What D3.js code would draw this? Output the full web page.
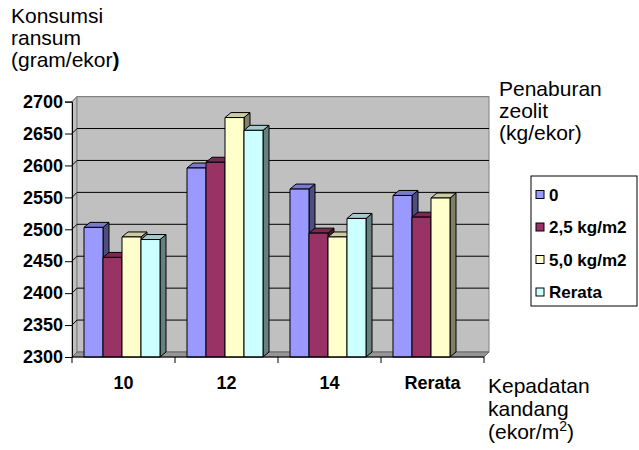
<!DOCTYPE html>
<html>
<head>
<meta charset="utf-8">
<script src="https://cdn.jsdelivr.net/npm/d3@7"></script>
<style>
  html, body { margin: 0; padding: 0; background: #fff; }
  svg { display: block; font-family: "Liberation Sans", Arial, sans-serif; }
</style>
</head>
<body>
<svg id="chart" width="639" height="450"></svg>
<script>
// ---- data ----
const categories = ["10", "12", "14", "Rerata"];
const seriesNames = ["0", "2,5 kg/m2", "5,0 kg/m2", "Rerata"];
const series0 = [2503, 2596, 2563, 2553];
const series25 = [2456, 2605, 2494, 2519];
const series50 = [2488, 2675, 2488, 2549];
const seriesRerata = [2484, 2655, 2517, null];
const yTicks = [2300, 2350, 2400, 2450, 2500, 2550, 2600, 2650, 2700];
const seriesColors = ["#9999ff", "#993366", "#ffffcc", "#ccffff"];

const allSeries = [series0, series25, series50, seriesRerata];

// ---- layout ----
const svg = d3.select("#chart");
const pLeft = 72, pRight = 484, pTop = 101.6, pBottom = 357;
const WDX = 5, WDY = 5;      // wall depth
const BDX = 6, BDY = 5;      // bar depth

const y = d3.scaleLinear().domain([2300, 2700]).range([pBottom, pTop]);
const x0 = d3.scaleBand().domain(categories).range([pLeft, pRight]).padding(0);
const x1 = d3.scaleBand().domain(seriesNames).range([12, 12 + 76]).padding(0);

// walls
const g = svg.append("g");
g.append("polygon")
  .attr("points", [[pLeft, pTop], [pLeft + WDX, pTop - WDY], [pLeft + WDX, pBottom - WDY], [pLeft, pBottom]].join(" "))
  .attr("fill", "#c0c0c0").attr("stroke", "#808080").attr("stroke-width", 1);
g.append("rect")
  .attr("x", pLeft + WDX).attr("y", pTop - WDY)
  .attr("width", pRight - pLeft).attr("height", pBottom - pTop)
  .attr("fill", "#c0c0c0").attr("stroke", "#808080").attr("stroke-width", 1);
g.append("polygon")
  .attr("points", [[pLeft, pBottom], [pRight, pBottom], [pRight + WDX, pBottom - WDY], [pLeft + WDX, pBottom - WDY]].join(" "))
  .attr("fill", "#969696").attr("stroke", "#666666").attr("stroke-width", 1);

// gridlines on back wall + left wall
yTicks.filter(v => v > 2300).forEach(v => {
  const yy = y(v);
  const c = v === 2700 ? "#808080" : "#000";
  g.append("line")
    .attr("x1", pLeft + WDX).attr("x2", pRight + WDX)
    .attr("y1", yy - WDY).attr("y2", yy - WDY)
    .attr("stroke", c).attr("stroke-width", 1);
  g.append("line")
    .attr("x1", pLeft).attr("x2", pLeft + WDX)
    .attr("y1", yy).attr("y2", yy - WDY)
    .attr("stroke", c).attr("stroke-width", 1);
});

// bars
function shade(c, k) {
  const col = d3.rgb(c);
  return d3.rgb(col.r * k, col.g * k, col.b * k).toString();
}
const barsG = svg.append("g");
categories.forEach((cat, ci) => {
  seriesNames.forEach((sn, si) => {
    const v = allSeries[si][ci];
    if (v == null) return;
    const bx = x0(cat) + x1(sn);
    const bw = x1.bandwidth();
    const by = y(v);
    const col = seriesColors[si];
    const bg = barsG.append("g").attr("stroke", "#000").attr("stroke-width", 1).attr("stroke-linejoin", "round");
    bg.append("polygon")
      .attr("points", [[bx + bw, by], [bx + bw + BDX, by - BDY], [bx + bw + BDX, pBottom - BDY], [bx + bw, pBottom]].join(" "))
      .attr("fill", shade(col, 0.5));
    bg.append("polygon")
      .attr("points", [[bx, by], [bx + bw, by], [bx + bw + BDX, by - BDY], [bx + BDX, by - BDY]].join(" "))
      .attr("fill", shade(col, 0.8));
    bg.append("rect")
      .attr("x", bx).attr("y", by).attr("width", bw).attr("height", pBottom - by)
      .attr("fill", col);
  });
});

// y axis
const yAxis = d3.axisLeft(y).tickValues(yTicks).tickSize(7).tickPadding(2).tickFormat(d3.format("d"));
const ya = svg.append("g").attr("transform", `translate(${pLeft},0)`).call(yAxis);
ya.select(".domain").attr("stroke", "#000");
ya.selectAll(".tick line").attr("stroke", "#000");
ya.selectAll(".tick text")
  .attr("fill", "#000").attr("font-size", "18px").attr("font-weight", "bold")
  .attr("font-family", "Liberation Sans, Arial, sans-serif");

// x axis
const xa = svg.append("g").attr("transform", `translate(0,${pBottom})`);
xa.append("line").attr("x1", pLeft).attr("x2", pRight).attr("y1", 0).attr("y2", 0).attr("stroke", "#000");
const boundaries = categories.map(c => x0(c)).concat([x0(categories[categories.length - 1]) + x0.bandwidth()]);
xa.selectAll("line.tk").data(boundaries).enter().append("line")
  .attr("class", "tk").attr("x1", d => d).attr("x2", d => d).attr("y1", 0).attr("y2", 6).attr("stroke", "#000");
xa.selectAll("text.cat").data(categories).enter().append("text")
  .attr("class", "cat")
  .attr("x", d => x0(d) + x0.bandwidth() / 2).attr("y", 32)
  .attr("text-anchor", "middle").attr("font-size", "18px").attr("font-weight", "bold").attr("fill", "#000")
  .text(d => d);

// titles
function multiline(lines, x, y0, lh, size) {
  const t = svg.append("text").attr("x", x).attr("y", y0).attr("font-size", size).attr("fill", "#000");
  lines.forEach((l, i) => {
    const ts = t.append("tspan").attr("x", x).attr("y", y0 + i * lh);
    if (typeof l === "string") ts.text(l);
    else l(ts);
  });
  return t;
}
multiline(["Konsumsi", "ransum", ts => {
  ts.append("tspan").text("(gram/ekor");
  ts.append("tspan").attr("font-weight", "bold").text(")");
}], 11, 23, 22, "21px");

multiline(["Penaburan", "zeolit", "(kg/ekor)"], 499, 96, 22, "21px");

multiline(["Kepadatan", "kandang", ts => {
  ts.append("tspan").text("(ekor/m");
  ts.append("tspan").attr("dy", -8).attr("font-size", "14px").text("2");
  ts.append("tspan").attr("dy", 8).text(")");
}], 488, 393, 23, "21px");

// legend
const lg = svg.append("g");
lg.append("rect").attr("x", 531).attr("y", 176).attr("width", 106).attr("height", 130)
  .attr("fill", "#fff").attr("stroke", "#000").attr("stroke-width", 1);
seriesNames.forEach((sn, i) => {
  const cy = 195 + i * 32.5;
  lg.append("rect").attr("x", 536).attr("y", cy - 4.5).attr("width", 8).attr("height", 8)
    .attr("fill", seriesColors[i]).attr("stroke", "#000").attr("stroke-width", 1);
  lg.append("text").attr("x", 549).attr("y", cy).attr("dy", "0.35em")
    .attr("font-size", "17px").attr("font-weight", "bold").attr("fill", "#000").text(sn);
});
</script>
</body>
</html>
